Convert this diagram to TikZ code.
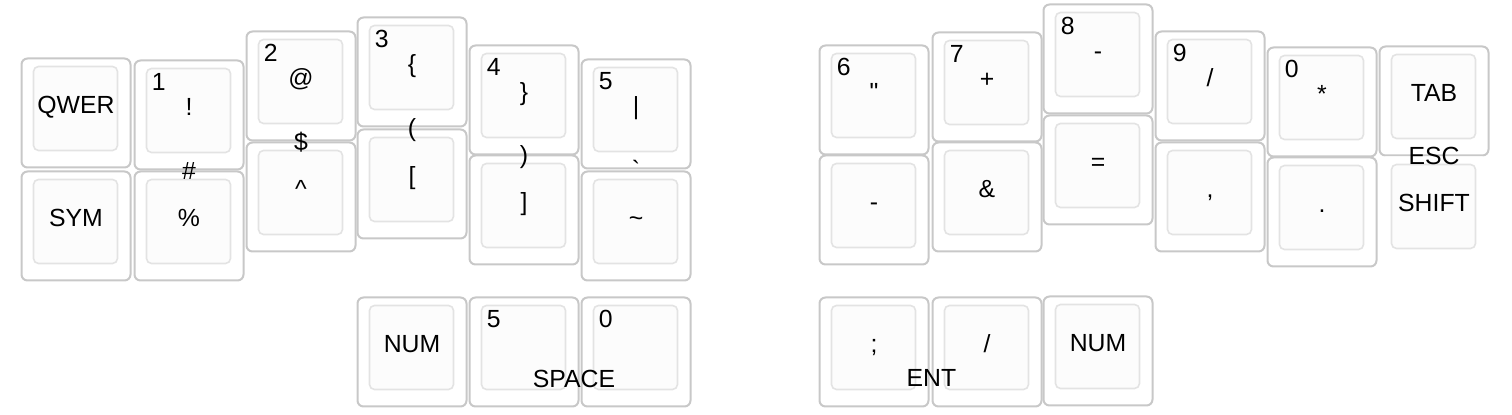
\documentclass[tikz,border=0pt]{standalone}
\usepackage{fontspec}
\setmainfont{Liberation Sans}
\usetikzlibrary{calc}
\definecolor{keyrim}{HTML}{C8C8C8}
\definecolor{keyedge}{HTML}{E3E3E3}
\definecolor{keytop}{HTML}{FCFCFC}
\begin{document}
\begin{tikzpicture}[
    x=0.5pt, y=-0.5pt,
    key/.style={draw=keyrim, line width=1pt, rounded corners=3pt, fill=white,
      minimum width=54.5pt, minimum height=54.5pt, inner sep=0pt,
      path picture={\draw[keyedge, fill=keytop, line width=0.8pt, rounded corners=2.5pt]
        ([xshift=6pt,yshift=-4pt]path picture bounding box.north west) rectangle
        ([xshift=-6.5pt,yshift=8.5pt]path picture bounding box.south east);}},
    legend/.style={inner sep=0pt, text height=8.9pt, text depth=0pt,
      font=\fontsize{12.4}{14}\selectfont},
    mainlegend/.style={legend, yshift=4pt},
    cornerlegend/.style={legend, anchor=north west, xshift=9pt, yshift=-6.5pt},
    combo/.style={legend}
  ]
  \useasboundingbox (0,0) rectangle (1512,415);
  % left hand
  \node[key] (qwer) at (76,113) {};
  \node[key] (sym) at (76,226) {};
  \node[key] (one) at (189,115) {};
  \node[key] (pct) at (189,226) {};
  \node[key] (two) at (301,86) {};
  \node[key] (caret) at (301,197) {};
  \node[key] (three) at (412,72) {};
  \node[key] (lbrack) at (412,184) {};
  \node[key] (four) at (524,100) {};
  \node[key] (rbrack) at (524,210) {};
  \node[key] (five) at (636,114) {};
  \node[key] (tilde) at (636,226) {};
  \node[key] (numL) at (412,352) {};
  \node[key] (fiveT) at (524,352) {};
  \node[key] (zeroT) at (636,352) {};

  \node[mainlegend] (qwer-t) at (qwer) {QWER};
  \node[mainlegend] (sym-t) at (sym) {SYM};
  \node[cornerlegend] (one-n) at (one.north west) {1};
  \node[mainlegend] (one-t) at (one) {!};
  \node[mainlegend] (pct-t) at (pct) {\%};
  \node[cornerlegend] (two-n) at (two.north west) {2};
  \node[mainlegend] (two-t) at (two) {@};
  \node[mainlegend] (caret-t) at (caret) {\textasciicircum};
  \node[cornerlegend] (three-n) at (three.north west) {3};
  \node[mainlegend] (three-t) at (three) {\{};
  \node[mainlegend] (lbrack-t) at (lbrack) {[};
  \node[cornerlegend] (four-n) at (four.north west) {4};
  \node[mainlegend] (four-t) at (four) {\}};
  \node[mainlegend] (rbrack-t) at (rbrack) {]};
  \node[cornerlegend] (five-n) at (five.north west) {5};
  \node[mainlegend] (five-t) at (five) {|};
  \node[mainlegend] (tilde-t) at (tilde) {\textasciitilde};
  \node[mainlegend] (numL-t) at (numL) {NUM};
  \node[cornerlegend] (fiveT-n) at (fiveT.north west) {5};
  \node[cornerlegend] (zeroT-n) at (zeroT.north west) {0};

  % combos
  \node[combo] (hash) at ($(one.south)!0.5!(pct.north)$) {\#};
  \node[combo] (dollar) at ($(two.south)!0.5!(caret.north)$) {\$};
  \node[combo] (lparen) at ($(three.south)!0.5!(lbrack.north)$) {(};
  \node[combo] (rparen) at ($(four.south)!0.5!(rbrack.north)$) {)};
  \node[combo] (grave) at ($(five.south)!0.5!(tilde.north)$) {\textasciigrave};
  \node[combo] (space) at ($(fiveT.east)!0.5!(zeroT.west) + (-6,27)$) {SPACE};

  % right hand
  \node[key] (six) at (874,100) {};
  \node[key] (dash) at (874,210) {};
  \node[key] (seven) at (987,87) {};
  \node[key] (amp) at (987,197) {};
  \node[key] (eight) at (1098,59) {};
  \node[key] (equal) at (1098,170) {};
  \node[key] (nine) at (1210,86) {};
  \node[key] (comma) at (1210,197) {};
  \node[key] (zero) at (1322,102) {};
  \node[key] (dot) at (1322,212) {};
  \node[key] (tab) at (1434,101) {};
  \node[key, draw=none] (shift) at (1434,211) {};
  \node[key] (semi) at (874,352) {};
  \node[key] (slash) at (987,352) {};
  \node[key] (numR) at (1098,351) {};

  \node[cornerlegend] (six-n) at (six.north west) {6};
  \node[mainlegend] (six-t) at (six) {\textquotedbl};
  \node[mainlegend] (dash-t) at (dash) {-};
  \node[cornerlegend] (seven-n) at (seven.north west) {7};
  \node[mainlegend] (seven-t) at (seven) {+};
  \node[mainlegend] (amp-t) at (amp) {\&};
  \node[cornerlegend] (eight-n) at (eight.north west) {8};
  \node[mainlegend] (eight-t) at (eight) {-};
  \node[mainlegend] (equal-t) at (equal) {=};
  \node[cornerlegend] (nine-n) at (nine.north west) {9};
  \node[mainlegend] (nine-t) at (nine) {/};
  \node[mainlegend] (comma-t) at (comma) {,};
  \node[cornerlegend] (zero-n) at (zero.north west) {0};
  \node[mainlegend] (zero-t) at (zero) {*};
  \node[mainlegend] (dot-t) at (dot) {.};
  \node[mainlegend] (tab-t) at (tab) {TAB};
  \node[mainlegend] (shift-t) at (shift) {SHIFT};
  \node[mainlegend] (semi-t) at (semi) {;};
  \node[mainlegend] (slash-t) at (slash) {/};
  \node[mainlegend] (numR-t) at (numR) {NUM};

  % combos
  \node[combo] (esc) at ($(tab.south)!0.5!(shift.north)$) {ESC};
  \node[combo] (ent) at ($(semi.east)!0.5!(slash.west) + (1,26)$) {ENT};
\end{tikzpicture}
\end{document}
